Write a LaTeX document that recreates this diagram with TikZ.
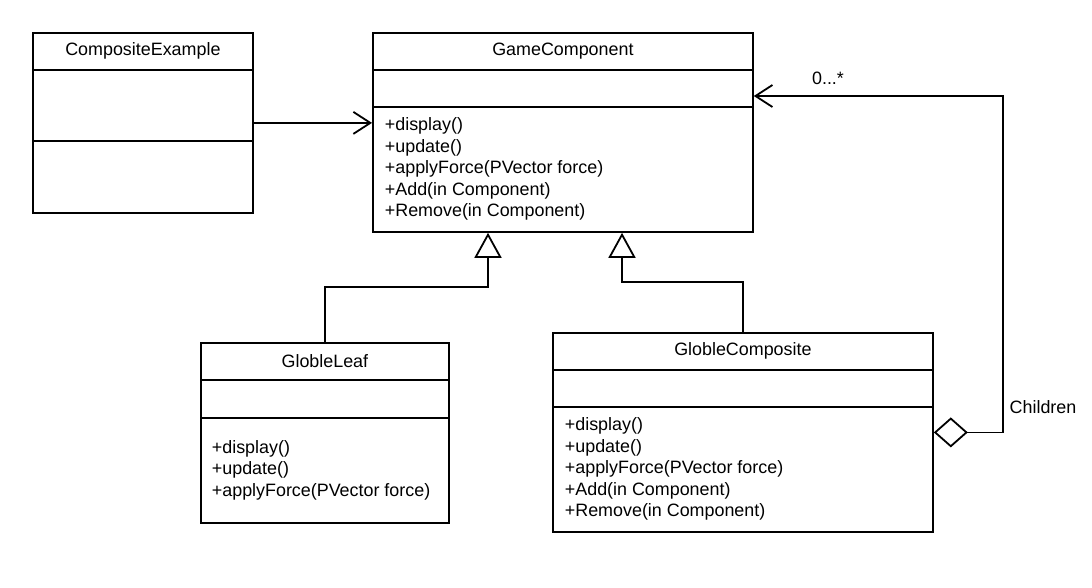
\documentclass[tikz,border=0pt]{standalone}
\usepackage{fontspec}
\setmainfont{Liberation Sans}
\usetikzlibrary{arrows.meta,positioning}
\begin{document}
\begin{tikzpicture}[x=1pt,y=-1pt,line width=1.8pt,
        every node/.style={font=\fontsize{17.9}{21.4}\selectfont},
        umlbox/.style={draw,rectangle,anchor=north west,inner sep=0pt},
        methods/.style={anchor=west,align=left,inner sep=0pt},
        inherit/.style={-{Triangle[open,length=25pt,width=27pt]}},
        assoc/.style={-{Straight Barb[length=17pt,width=22pt]}}]
        \useasboundingbox (0,0) rectangle (1092,588);
        % CompositeExample
        \node[umlbox,minimum width=220pt,minimum height=180pt] (ce) at (32,32) {};
        \node (ceT) at ([yshift=-19pt]ce.north) {CompositeExample};
        \draw ([yshift=-38pt]ce.north west) -- ([yshift=-38pt]ce.north east);
        \draw ([yshift=-109pt]ce.north west) -- ([yshift=-109pt]ce.north east);
        % GameComponent
        \node[umlbox,minimum width=380pt,minimum height=199pt] (gc) at (372,32) {};
        \node (gcT) at ([yshift=-19pt]gc.north) {GameComponent};
        \draw ([yshift=-38pt]gc.north west) -- ([yshift=-38pt]gc.north east);
        \draw ([yshift=-75pt]gc.north west) -- ([yshift=-75pt]gc.north east);
        \node[methods] (gcM) at ([shift={(12pt,-137pt)}]gc.north west)
            {+display()\\+update()\\+applyForce(PVector force)\\+Add(in Component)\\+Remove(in Component)};
        % GlobleLeaf
        \node[umlbox,minimum width=248pt,minimum height=180pt] (gl) at (200,342) {};
        \node (glT) at ([yshift=-19pt]gl.north) {GlobleLeaf};
        \draw ([yshift=-38pt]gl.north west) -- ([yshift=-38pt]gl.north east);
        \draw ([yshift=-76pt]gl.north west) -- ([yshift=-76pt]gl.north east);
        \node[methods] (glM) at ([shift={(11pt,-128pt)}]gl.north west)
            {+display()\\+update()\\+applyForce(PVector force)};
        % GlobleComposite
        \node[umlbox,minimum width=380pt,minimum height=199pt] (gco) at (552,332) {};
        \node (gcoT) at ([yshift=-19pt]gco.north) {GlobleComposite};
        \draw ([yshift=-38pt]gco.north west) -- ([yshift=-38pt]gco.north east);
        \draw ([yshift=-75pt]gco.north west) -- ([yshift=-75pt]gco.north east);
        \node[methods] (gcoM) at ([shift={(12pt,-137pt)}]gco.north west)
            {+display()\\+update()\\+applyForce(PVector force)\\+Add(in Component)\\+Remove(in Component)};
        % connectors
        \coordinate (gcL) at ([xshift=116pt]gc.south west);
        \coordinate (gcR) at ([xshift=250pt]gc.south west);
        \coordinate (gcC) at ([yshift=-64pt]gc.north east);
        \draw[assoc] (ce.east) -- (ce.east -| gc.west);
        \draw[inherit] (gl.north) -- ++(0,-55) -| (gcL);
        \draw[inherit] (gco.north) -- ++(0,-50) -| (gcR);
        \draw[{Diamond[open,length=34pt,width=30pt]}-{Straight Barb[length=17pt,width=22pt]}]
            (gco.east) -- ++(69,0) |- (gcC);
        \node (mult) at (828,78) {0...*};
        \node (role) at (1043,407) {Children};
    \end{tikzpicture}
\end{document}
